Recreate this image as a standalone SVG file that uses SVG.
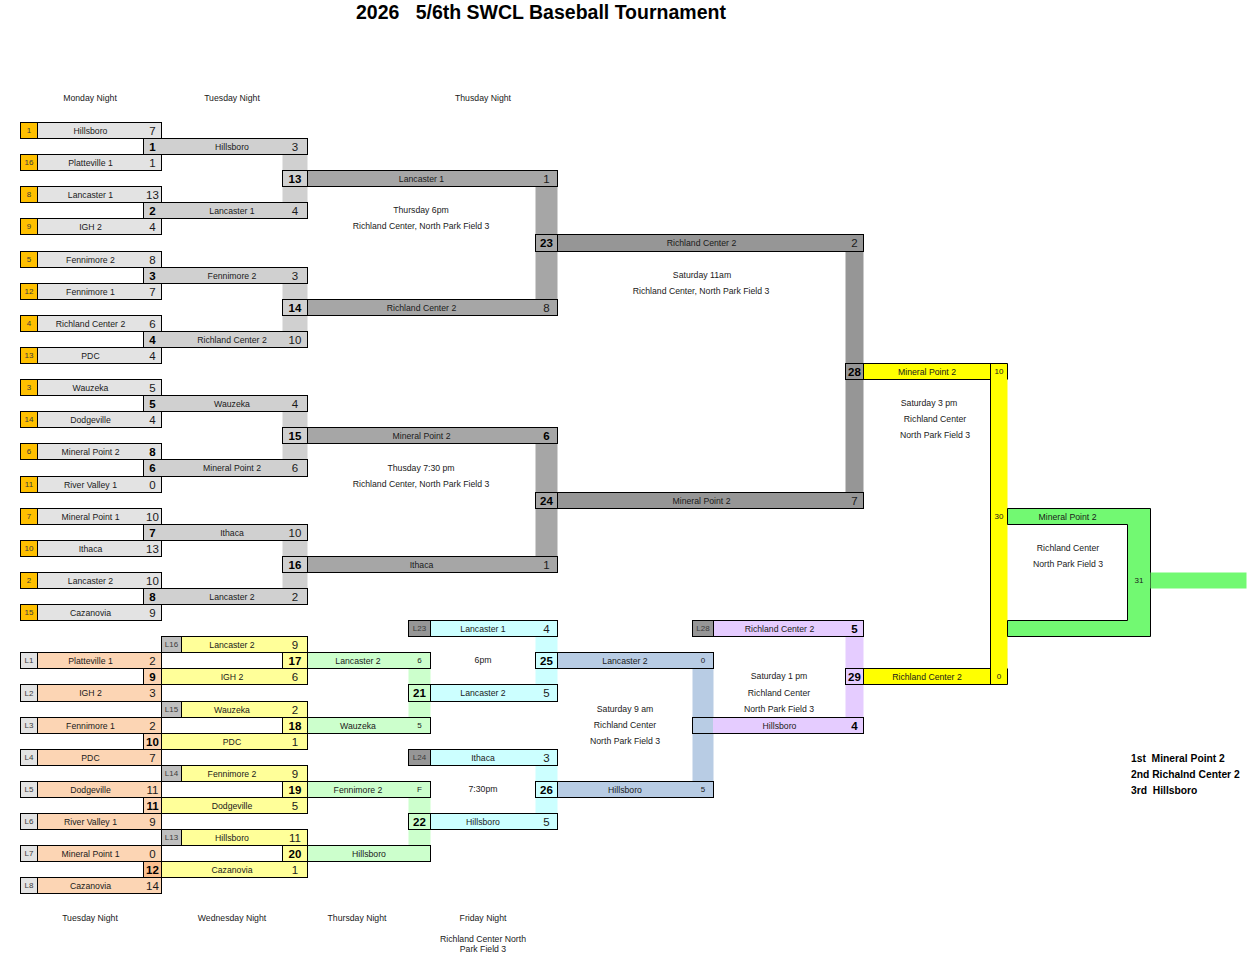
<svg xmlns="http://www.w3.org/2000/svg" width="1257" height="955" viewBox="0 0 1257 955">
<style>
.t{font-family:"Liberation Sans",Arial,sans-serif;dominant-baseline:central;text-anchor:middle;fill:#1a1a1a}
.n{font-size:8.7px}
.sc{font-size:11.5px}
.bd{font-size:11.5px;font-weight:bold;fill:#000}
.sm{font-size:8px}
.lb{font-size:8px;fill:#3c3c3c}
.rk{font-size:10.3px;font-weight:bold;text-anchor:start;fill:#000}
.k{stroke:#000;stroke-width:1}
.ln{stroke:#000;stroke-width:1;fill:none}
.sd{fill:#FFC000}.r1{fill:#E3E3E3}.r2{fill:#D0D0D0}.r3{fill:#A6A6A6}.r4{fill:#969696}
.ll{fill:#E3E3E3}.pe{fill:#FCD5B4}.pe2{fill:#FABF8F}.ye{fill:#FFFF99}.l2{fill:#BFBFBF}
.gr{fill:#CCFFCC}.cy{fill:#CCFFFF}.dk{fill:#969696}.bl{fill:#B8CCE4}.pu{fill:#E5CCFF}
.yf{fill:#FFFF00}.gf{fill:#72F972}
</style>
<rect x="0" y="0" width="1257" height="955" fill="#fff"/>
<text class="t" x="356" y="12" style="font-size:19.5px;font-weight:bold;text-anchor:start;fill:#000" xml:space="preserve">2026   5/6th SWCL Baseball Tournament</text>

<g id="headers">
<text class="t n" x="90" y="98">Monday Night</text>
<text class="t n" x="232" y="98">Tuesday Night</text>
<text class="t n" x="483" y="98">Thusday Night</text>
<text class="t n" x="90" y="918">Tuesday Night</text>
<text class="t n" x="232" y="918">Wednesday Night</text>
<text class="t n" x="357" y="918">Thursday Night</text>
<text class="t n" x="483" y="918">Friday Night</text>
<text class="t n" x="483" y="939">Richland Center North</text>
<text class="t n" x="483" y="949">Park Field 3</text>
</g>

<g transform="translate(0.5 0.5)">
<g id="connectors">
<rect class="r2" x="282" y="154" width="25" height="48"/>
<rect class="r2" x="282" y="283" width="25" height="48"/>
<rect class="r2" x="282" y="411" width="25" height="48"/>
<rect class="r2" x="282" y="540" width="25" height="48"/>
<rect class="r3" x="535" y="186" width="22" height="113"/>
<rect class="r3" x="535" y="443" width="22" height="113"/>
<rect class="r4" x="845" y="251" width="18" height="241"/>
<rect class="yf" x="990" y="363" width="17" height="321"/>
<path class="ln" d="M990 363V684M990 363H1007M990 684H1007M1007 363V379M1007 668V684"/>
<path class="k gf" d="M1007 508H1150V636H1007V620H1127V524H1007Z"/>
<rect class="gf" x="1150" y="572" width="96" height="16"/>
<rect class="gr" x="408" y="668" width="22" height="49"/>
<rect class="gr" x="408" y="797" width="22" height="48"/>
<rect class="cy" x="535" y="636" width="22" height="48"/>
<rect class="cy" x="535" y="765" width="22" height="48"/>
<rect class="bl" x="692" y="668" width="21" height="113"/>
<rect class="pu" x="845" y="636" width="18" height="81"/>
</g>

<!-- Round 1 -->
<g id="s1"><rect class="k r1" x="20" y="122" width="141" height="16"/><rect class="k sd" x="20" y="122" width="17" height="16"/><text class="t lb" x="28.5" y="130">1</text><text class="t n" x="90" y="130">Hillsboro</text><text class="t sc" x="152" y="130">7</text></g>
<g id="s16"><rect class="k r1" x="20" y="154" width="141" height="16"/><rect class="k sd" x="20" y="154" width="17" height="16"/><text class="t lb" x="28.5" y="162">16</text><text class="t n" x="90" y="162">Platteville 1</text><text class="t sc" x="152" y="162">1</text></g>
<g id="s8"><rect class="k r1" x="20" y="186" width="141" height="16"/><rect class="k sd" x="20" y="186" width="17" height="16"/><text class="t lb" x="28.5" y="194">8</text><text class="t n" x="90" y="194">Lancaster 1</text><text class="t sc" x="152" y="194">13</text></g>
<g id="s9"><rect class="k r1" x="20" y="218" width="141" height="16"/><rect class="k sd" x="20" y="218" width="17" height="16"/><text class="t lb" x="28.5" y="226">9</text><text class="t n" x="90" y="226">IGH 2</text><text class="t sc" x="152" y="226">4</text></g>
<g id="s5"><rect class="k r1" x="20" y="251" width="141" height="16"/><rect class="k sd" x="20" y="251" width="17" height="16"/><text class="t lb" x="28.5" y="259">5</text><text class="t n" x="90" y="259">Fennimore 2</text><text class="t sc" x="152" y="259">8</text></g>
<g id="s12"><rect class="k r1" x="20" y="283" width="141" height="16"/><rect class="k sd" x="20" y="283" width="17" height="16"/><text class="t lb" x="28.5" y="291">12</text><text class="t n" x="90" y="291">Fennimore 1</text><text class="t sc" x="152" y="291">7</text></g>
<g id="s4"><rect class="k r1" x="20" y="315" width="141" height="16"/><rect class="k sd" x="20" y="315" width="17" height="16"/><text class="t lb" x="28.5" y="323">4</text><text class="t n" x="90" y="323">Richland Center 2</text><text class="t sc" x="152" y="323">6</text></g>
<g id="s13"><rect class="k r1" x="20" y="347" width="141" height="16"/><rect class="k sd" x="20" y="347" width="17" height="16"/><text class="t lb" x="28.5" y="355">13</text><text class="t n" x="90" y="355">PDC</text><text class="t sc" x="152" y="355">4</text></g>
<g id="s3"><rect class="k r1" x="20" y="379" width="141" height="16"/><rect class="k sd" x="20" y="379" width="17" height="16"/><text class="t lb" x="28.5" y="387">3</text><text class="t n" x="90" y="387">Wauzeka</text><text class="t sc" x="152" y="387">5</text></g>
<g id="s14"><rect class="k r1" x="20" y="411" width="141" height="16"/><rect class="k sd" x="20" y="411" width="17" height="16"/><text class="t lb" x="28.5" y="419">14</text><text class="t n" x="90" y="419">Dodgeville</text><text class="t sc" x="152" y="419">4</text></g>
<g id="s6"><rect class="k r1" x="20" y="443" width="141" height="16"/><rect class="k sd" x="20" y="443" width="17" height="16"/><text class="t lb" x="28.5" y="451">6</text><text class="t n" x="90" y="451">Mineral Point 2</text><text class="t bd" x="152" y="451">8</text></g>
<g id="s11"><rect class="k r1" x="20" y="476" width="141" height="16"/><rect class="k sd" x="20" y="476" width="17" height="16"/><text class="t lb" x="28.5" y="484">11</text><text class="t n" x="90" y="484">River Valley 1</text><text class="t sc" x="152" y="484">0</text></g>
<g id="s7"><rect class="k r1" x="20" y="508" width="141" height="16"/><rect class="k sd" x="20" y="508" width="17" height="16"/><text class="t lb" x="28.5" y="516">7</text><text class="t n" x="90" y="516">Mineral Point 1</text><text class="t sc" x="152" y="516">10</text></g>
<g id="s10"><rect class="k r1" x="20" y="540" width="141" height="16"/><rect class="k sd" x="20" y="540" width="17" height="16"/><text class="t lb" x="28.5" y="548">10</text><text class="t n" x="90" y="548">Ithaca</text><text class="t sc" x="152" y="548">13</text></g>
<g id="s2"><rect class="k r1" x="20" y="572" width="141" height="16"/><rect class="k sd" x="20" y="572" width="17" height="16"/><text class="t lb" x="28.5" y="580">2</text><text class="t n" x="90" y="580">Lancaster 2</text><text class="t sc" x="152" y="580">10</text></g>
<g id="s15"><rect class="k r1" x="20" y="604" width="141" height="16"/><rect class="k sd" x="20" y="604" width="17" height="16"/><text class="t lb" x="28.5" y="612">15</text><text class="t n" x="90" y="612">Cazanovia</text><text class="t sc" x="152" y="612">9</text></g>

<!-- Round 2 -->
<g id="g1"><rect class="k r2" x="143" y="138" width="164" height="16"/><text class="t bd" x="152" y="146">1</text><text class="t n" x="231.5" y="146">Hillsboro</text><text class="t sc" x="294.5" y="146">3</text></g>
<g id="g2"><rect class="k r2" x="143" y="202" width="164" height="16"/><text class="t bd" x="152" y="210">2</text><text class="t n" x="231.5" y="210">Lancaster 1</text><text class="t sc" x="294.5" y="210">4</text></g>
<g id="g3"><rect class="k r2" x="143" y="267" width="164" height="16"/><text class="t bd" x="152" y="275">3</text><text class="t n" x="231.5" y="275">Fennimore 2</text><text class="t sc" x="294.5" y="275">3</text></g>
<g id="g4"><rect class="k r2" x="143" y="331" width="164" height="16"/><text class="t bd" x="152" y="339">4</text><text class="t n" x="231.5" y="339">Richland Center 2</text><text class="t sc" x="294.5" y="339">10</text></g>
<g id="g5"><rect class="k r2" x="143" y="395" width="164" height="16"/><text class="t bd" x="152" y="403">5</text><text class="t n" x="231.5" y="403">Wauzeka</text><text class="t sc" x="294.5" y="403">4</text></g>
<g id="g6"><rect class="k r2" x="143" y="459" width="164" height="17"/><text class="t bd" x="152" y="467.5">6</text><text class="t n" x="231.5" y="467.5">Mineral Point 2</text><text class="t sc" x="294.5" y="467.5">6</text></g>
<g id="g7"><rect class="k r2" x="143" y="524" width="164" height="16"/><text class="t bd" x="152" y="532">7</text><text class="t n" x="231.5" y="532">Ithaca</text><text class="t sc" x="294.5" y="532">10</text></g>
<g id="g8"><rect class="k r2" x="143" y="588" width="164" height="16"/><text class="t bd" x="152" y="596">8</text><text class="t n" x="231.5" y="596">Lancaster 2</text><text class="t sc" x="294.5" y="596">2</text></g>

<!-- Round 3 -->
<g id="g13"><rect class="k r3" x="282" y="170" width="275" height="16"/><rect class="k r2" x="282" y="170" width="25" height="16"/><text class="t bd" x="294.5" y="178">13</text><text class="t n" x="421" y="178">Lancaster 1</text><text class="t sc" x="546" y="178">1</text></g>
<g id="g14"><rect class="k r3" x="282" y="299" width="275" height="16"/><rect class="k r2" x="282" y="299" width="25" height="16"/><text class="t bd" x="294.5" y="307">14</text><text class="t n" x="421" y="307">Richland Center 2</text><text class="t sc" x="546" y="307">8</text></g>
<g id="g15"><rect class="k r3" x="282" y="427" width="275" height="16"/><rect class="k r2" x="282" y="427" width="25" height="16"/><text class="t bd" x="294.5" y="435">15</text><text class="t n" x="421" y="435">Mineral Point 2</text><text class="t bd" x="546" y="435">6</text></g>
<g id="g16"><rect class="k r3" x="282" y="556" width="275" height="16"/><rect class="k r2" x="282" y="556" width="25" height="16"/><text class="t bd" x="294.5" y="564">16</text><text class="t n" x="421" y="564">Ithaca</text><text class="t sc" x="546" y="564">1</text></g>

<!-- Round 4 -->
<g id="g23"><rect class="k r4" x="535" y="234" width="328" height="17"/><rect class="k r3" x="535" y="234" width="22" height="17"/><text class="t bd" x="546" y="242.5">23</text><text class="t n" x="701" y="242.5">Richland Center 2</text><text class="t sc" x="854" y="242.5">2</text></g>
<g id="g24"><rect class="k r4" x="535" y="492" width="328" height="16"/><rect class="k r3" x="535" y="492" width="22" height="16"/><text class="t bd" x="546" y="500">24</text><text class="t n" x="701" y="500">Mineral Point 2</text><text class="t sc" x="854" y="500">7</text></g>

<!-- Finals -->
<g id="g28"><rect class="k yf" x="845" y="363" width="145" height="16"/><rect class="k r4" x="845" y="363" width="18" height="16"/><text class="t bd" x="854" y="371">28</text><text class="t n" x="926.5" y="371">Mineral Point 2</text><text class="t sm" x="998.5" y="371">10</text></g>
<g id="g29"><rect class="k yf" x="845" y="668" width="145" height="16"/><rect class="k pu" x="845" y="668" width="18" height="16"/><text class="t bd" x="854" y="676">29</text><text class="t n" x="926.5" y="676">Richland Center 2</text><text class="t sm" x="998.5" y="676">0</text></g>
<g id="g30"><text class="t sm" x="998.5" y="516">30</text><text class="t n" x="1067" y="516">Mineral Point 2</text></g>
<g id="g31"><text class="t sm" x="1138.5" y="580">31</text></g>

<!-- Losers round 1 -->
<g id="l1"><rect class="k pe" x="20" y="652" width="141" height="16"/><rect class="k ll" x="20" y="652" width="17" height="16"/><text class="t lb" x="28.5" y="660">L1</text><text class="t n" x="90" y="660">Platteville 1</text><text class="t sc" x="152" y="660">2</text></g>
<g id="l2"><rect class="k pe" x="20" y="684" width="141" height="17"/><rect class="k ll" x="20" y="684" width="17" height="17"/><text class="t lb" x="28.5" y="692.5">L2</text><text class="t n" x="90" y="692.5">IGH 2</text><text class="t sc" x="152" y="692.5">3</text></g>
<g id="l3"><rect class="k pe" x="20" y="717" width="141" height="16"/><rect class="k ll" x="20" y="717" width="17" height="16"/><text class="t lb" x="28.5" y="725">L3</text><text class="t n" x="90" y="725">Fennimore 1</text><text class="t sc" x="152" y="725">2</text></g>
<g id="l4"><rect class="k pe" x="20" y="749" width="141" height="16"/><rect class="k ll" x="20" y="749" width="17" height="16"/><text class="t lb" x="28.5" y="757">L4</text><text class="t n" x="90" y="757">PDC</text><text class="t sc" x="152" y="757">7</text></g>
<g id="l5"><rect class="k pe" x="20" y="781" width="141" height="16"/><rect class="k ll" x="20" y="781" width="17" height="16"/><text class="t lb" x="28.5" y="789">L5</text><text class="t n" x="90" y="789">Dodgeville</text><text class="t sc" x="152" y="789">11</text></g>
<g id="l6"><rect class="k pe" x="20" y="813" width="141" height="16"/><rect class="k ll" x="20" y="813" width="17" height="16"/><text class="t lb" x="28.5" y="821">L6</text><text class="t n" x="90" y="821">River Valley 1</text><text class="t sc" x="152" y="821">9</text></g>
<g id="l7"><rect class="k pe" x="20" y="845" width="141" height="16"/><rect class="k ll" x="20" y="845" width="17" height="16"/><text class="t lb" x="28.5" y="853">L7</text><text class="t n" x="90" y="853">Mineral Point 1</text><text class="t sc" x="152" y="853">0</text></g>
<g id="l8"><rect class="k pe" x="20" y="877" width="141" height="16"/><rect class="k ll" x="20" y="877" width="17" height="16"/><text class="t lb" x="28.5" y="885">L8</text><text class="t n" x="90" y="885">Cazanovia</text><text class="t sc" x="152" y="885">14</text></g>

<!-- Losers round 2 -->
<g id="l16"><rect class="k ye" x="161" y="636" width="146" height="16"/><rect class="k l2" x="161" y="636" width="20" height="16"/><text class="t lb" x="171" y="644">L16</text><text class="t n" x="231.5" y="644">Lancaster 2</text><text class="t sc" x="294.5" y="644">9</text></g>
<g id="g9"><rect class="k ye" x="143" y="668" width="164" height="16"/><rect class="k pe" x="143" y="668" width="18" height="16"/><text class="t bd" x="152" y="676">9</text><text class="t n" x="231.5" y="676">IGH 2</text><text class="t sc" x="294.5" y="676">6</text></g>
<g id="l15"><rect class="k ye" x="161" y="701" width="146" height="16"/><rect class="k l2" x="161" y="701" width="20" height="16"/><text class="t lb" x="171" y="709">L15</text><text class="t n" x="231.5" y="709">Wauzeka</text><text class="t sc" x="294.5" y="709">2</text></g>
<g id="g10"><rect class="k ye" x="143" y="733" width="164" height="16"/><rect class="k pe" x="143" y="733" width="18" height="16"/><text class="t bd" x="152" y="741">10</text><text class="t n" x="231.5" y="741">PDC</text><text class="t sc" x="294.5" y="741">1</text></g>
<g id="l14"><rect class="k ye" x="161" y="765" width="146" height="16"/><rect class="k l2" x="161" y="765" width="20" height="16"/><text class="t lb" x="171" y="773">L14</text><text class="t n" x="231.5" y="773">Fennimore 2</text><text class="t sc" x="294.5" y="773">9</text></g>
<g id="g11"><rect class="k ye" x="143" y="797" width="164" height="16"/><rect class="k pe" x="143" y="797" width="18" height="16"/><text class="t bd" x="152" y="805">11</text><text class="t n" x="231.5" y="805">Dodgeville</text><text class="t sc" x="294.5" y="805">5</text></g>
<g id="l13"><rect class="k ye" x="161" y="829" width="146" height="16"/><rect class="k l2" x="161" y="829" width="20" height="16"/><text class="t lb" x="171" y="837">L13</text><text class="t n" x="231.5" y="837">Hillsboro</text><text class="t sc" x="294.5" y="837">11</text></g>
<g id="g12"><rect class="k ye" x="143" y="861" width="164" height="16"/><rect class="k pe2" x="143" y="861" width="18" height="16"/><text class="t bd" x="152" y="869">12</text><text class="t n" x="231.5" y="869">Cazanovia</text><text class="t sc" x="294.5" y="869">1</text></g>

<!-- Losers round 3 -->
<g id="g17"><rect class="k gr" x="282" y="652" width="148" height="16"/><rect class="k ye" x="282" y="652" width="25" height="16"/><text class="t bd" x="294.5" y="660">17</text><text class="t n" x="357.5" y="660">Lancaster 2</text><text class="t sm" x="419" y="660">6</text></g>
<g id="g18"><rect class="k gr" x="282" y="717" width="148" height="16"/><rect class="k ye" x="282" y="717" width="25" height="16"/><text class="t bd" x="294.5" y="725">18</text><text class="t n" x="357.5" y="725">Wauzeka</text><text class="t sm" x="419" y="725">5</text></g>
<g id="g19"><rect class="k gr" x="282" y="781" width="148" height="16"/><rect class="k ye" x="282" y="781" width="25" height="16"/><text class="t bd" x="294.5" y="789">19</text><text class="t n" x="357.5" y="789">Fennimore 2</text><text class="t sm" x="419" y="789">F</text></g>
<g id="g20"><rect class="k gr" x="282" y="845" width="148" height="16"/><rect class="k ye" x="282" y="845" width="25" height="16"/><text class="t bd" x="294.5" y="853">20</text><text class="t n" x="368.5" y="853">Hillsboro</text></g>

<!-- Losers round 4 -->
<g id="l23"><rect class="k cy" x="408" y="620" width="149" height="16"/><rect class="k dk" x="408" y="620" width="22" height="16"/><text class="t lb" x="419" y="628">L23</text><text class="t n" x="482.5" y="628">Lancaster 1</text><text class="t sc" x="546" y="628">4</text></g>
<g id="g21"><rect class="k cy" x="408" y="684" width="149" height="17"/><rect class="k gr" x="408" y="684" width="22" height="17"/><text class="t bd" x="419" y="692.5">21</text><text class="t n" x="482.5" y="692.5">Lancaster 2</text><text class="t sc" x="546" y="692.5">5</text></g>
<g id="l24"><rect class="k cy" x="408" y="749" width="149" height="16"/><rect class="k dk" x="408" y="749" width="22" height="16"/><text class="t lb" x="419" y="757">L24</text><text class="t n" x="482.5" y="757">Ithaca</text><text class="t sc" x="546" y="757">3</text></g>
<g id="g22"><rect class="k cy" x="408" y="813" width="149" height="16"/><rect class="k gr" x="408" y="813" width="22" height="16"/><text class="t bd" x="419" y="821">22</text><text class="t n" x="482.5" y="821">Hillsboro</text><text class="t sc" x="546" y="821">5</text></g>

<!-- Losers round 5 -->
<g id="g25"><rect class="k bl" x="535" y="652" width="178" height="16"/><rect class="k cy" x="535" y="652" width="22" height="16"/><text class="t bd" x="546" y="660">25</text><text class="t n" x="624.5" y="660">Lancaster 2</text><text class="t sm" x="702.5" y="660">0</text></g>
<g id="g26"><rect class="k bl" x="535" y="781" width="178" height="16"/><rect class="k cy" x="535" y="781" width="22" height="16"/><text class="t bd" x="546" y="789">26</text><text class="t n" x="624.5" y="789">Hillsboro</text><text class="t sm" x="702.5" y="789">5</text></g>

<!-- Losers round 6 -->
<g id="l28"><rect class="k pu" x="692" y="620" width="171" height="16"/><rect class="k dk" x="692" y="620" width="21" height="16"/><text class="t lb" x="702.5" y="628">L28</text><text class="t n" x="779" y="628">Richland Center 2</text><text class="t bd" x="854" y="628">5</text></g>
<g id="g27"><rect class="k pu" x="692" y="717" width="171" height="16"/><rect class="bl" x="692.5" y="717.5" width="20" height="15"/><text class="t n" x="779" y="725">Hillsboro</text><text class="t bd" x="854" y="725">4</text></g>
</g>

<g id="notes">
<text class="t n" x="421" y="210">Thursday 6pm</text>
<text class="t n" x="421" y="226">Richland Center, North Park Field 3</text>
<text class="t n" x="421" y="467.5">Thusday 7:30 pm</text>
<text class="t n" x="421" y="484">Richland Center, North Park Field 3</text>
<text class="t n" x="702" y="275">Saturday 11am</text>
<text class="t n" x="701" y="291">Richland Center, North Park Field 3</text>
<text class="t n" x="929" y="403">Saturday 3 pm</text>
<text class="t n" x="935" y="419">Richland Center</text>
<text class="t n" x="935" y="435">North Park Field 3</text>
<text class="t n" x="1068" y="548">Richland Center</text>
<text class="t n" x="1068" y="564">North Park Field 3</text>
<text class="t n" x="483" y="660">6pm</text>
<text class="t n" x="483" y="789">7:30pm</text>
<text class="t n" x="625" y="709">Saturday 9 am</text>
<text class="t n" x="625" y="725">Richland Center</text>
<text class="t n" x="625" y="741">North Park Field 3</text>
<text class="t n" x="779" y="676">Saturday 1 pm</text>
<text class="t n" x="779" y="692.5">Richland Center</text>
<text class="t n" x="779" y="709">North Park Field 3</text>
</g>

<g id="results">
<text class="t rk" x="1131" y="758" xml:space="preserve">1st  Mineral Point 2</text>
<text class="t rk" x="1131" y="774" xml:space="preserve">2nd Richalnd Center 2</text>
<text class="t rk" x="1131" y="790" xml:space="preserve">3rd  Hillsboro</text>
</g>
</svg>
